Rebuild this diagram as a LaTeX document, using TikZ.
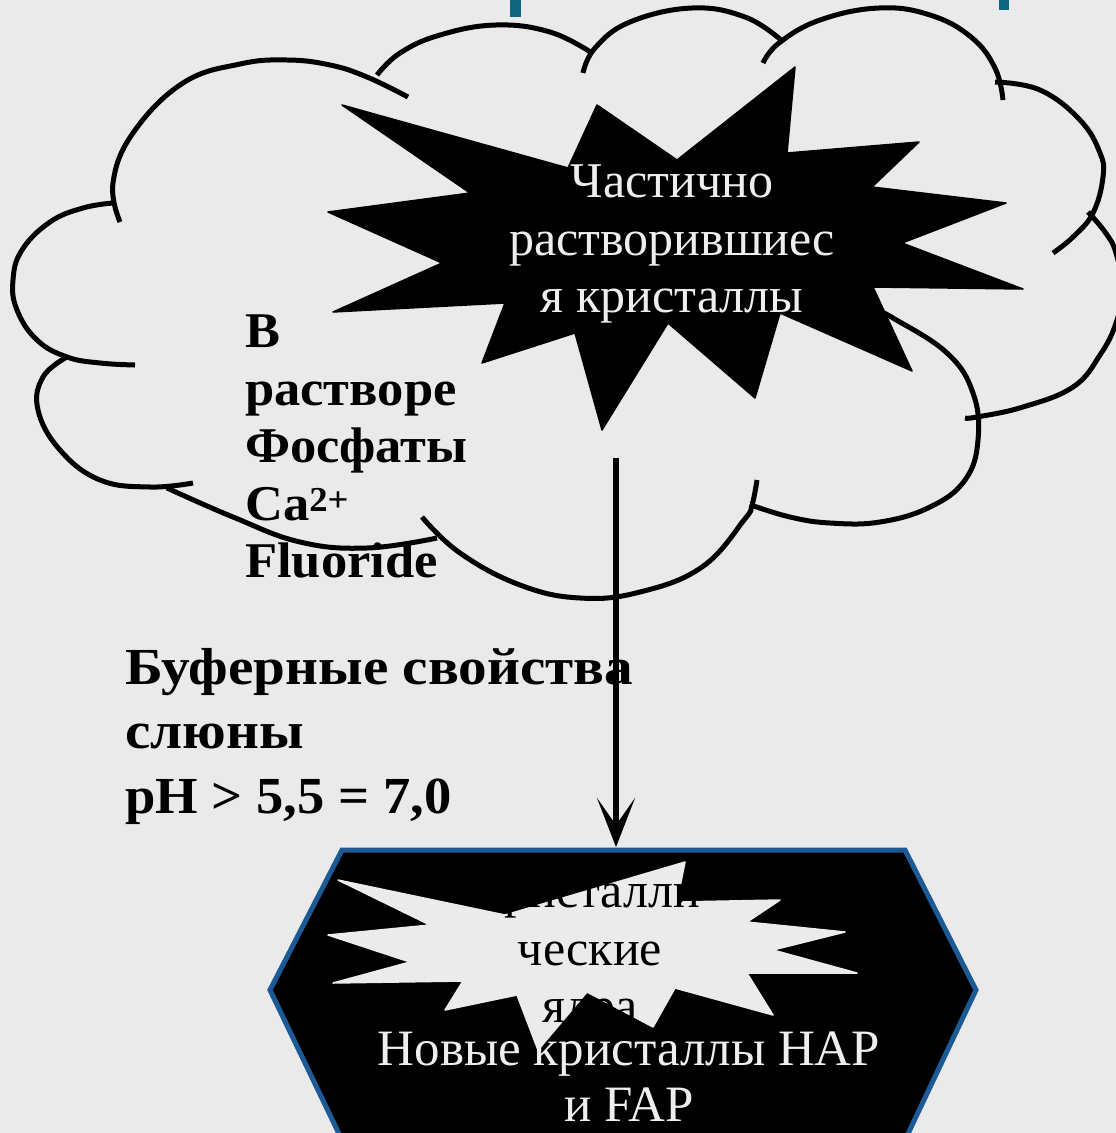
\documentclass[tikz,border=0pt]{standalone}
\usepackage{fontspec}
\setmainfont{Liberation Serif}
\newfontfamily\wideserif[FakeStretch=1.1]{Liberation Serif}
\newfontfamily\midserif[FakeStretch=1.05]{Liberation Serif}
\usetikzlibrary{arrows.meta}
\definecolor{bgcol}{RGB}{234,234,234}
\definecolor{hexblue}{RGB}{28,90,150}
\definecolor{tealcol}{RGB}{16,102,128}
\definecolor{lighttxt}{RGB}{238,238,238}
\definecolor{burstlight}{RGB}{235,235,235}
\begin{document}
\begin{tikzpicture}[x=1pt,y=-1pt,
  cloudarc/.style={line width=5pt, line cap=butt},
  darkburst/.style={fill=black, draw=black, line width=1.5pt, line join=round},
  lightburst/.style={fill=burstlight, draw=burstlight, line width=1.5pt, line join=round},
  hexbox/.style={fill=black, draw=hexblue, line width=5pt, line join=miter},
  plaintxt/.style={inner sep=0pt, font=\fontsize{50}{57.5}\selectfont},
  boldtxt/.style={inner sep=0pt, align=left, font=\midserif\bfseries\fontsize{50}{57.5}\selectfont},
  flowarrow/.style={line width=6.5pt, -{Stealth[length=49pt,width=38pt,inset=27pt]}}
]
\useasboundingbox (0,0) rectangle (1116,1133);
\clip (0,0) rectangle (1116,1133);
\fill[bgcol] (0,0) rectangle (1116,1133);

% remnants of title letters at the top
\fill[tealcol] (510,0) rectangle (521,17);
\fill[tealcol] (999,0) rectangle (1009,10);

% cloud outline (arcs)
\draw[cloudarc] plot[smooth, tension=0.7] coordinates {(120,222) (113,183) (133,133) (183,83) (240,64) (287,60) (330,65) (367,77) (408,97)};
\draw[cloudarc] plot[smooth, tension=0.7] coordinates {(377,75) (400,53) (440,35) (496,25) (550,32) (592,53)};
\draw[cloudarc] plot[smooth, tension=0.7] coordinates {(583,73) (595,48) (630,22) (692,8) (745,17) (781,40)};
\draw[cloudarc] plot[smooth, tension=0.7] coordinates {(763,63) (779,43) (820,20) (879,8) (930,15) (971,37) (995,68) (1003,100)};
\draw[cloudarc] plot[smooth, tension=0.7] coordinates {(995,82) (1040,90) (1080,120) (1100,153) (1103,177) (1093,213) (1073,237) (1053,253)};
\draw[cloudarc] plot[smooth, tension=0.7] coordinates {(1088,212) (1105,232) (1116,253) (1122,290) (1116,323) (1100,355) (1073,387) (1023,407) (977,417) (965,418)};
\draw[cloudarc] plot[smooth, tension=0.7] coordinates {(880,312) (893,318) (947,353) (973,393) (978,440) (965,480) (930,507) (880,522) (830,523) (790,517) (751,505)};
\draw[cloudarc] plot[smooth, tension=0.7] coordinates {(757,480) (752,505) (744,520) (702,567) (640,592) (580,598) (520,585) (460,553) (422,517)};
\draw[cloudarc] plot[smooth, tension=0.7] coordinates {(437,538) (367,548) (300,542) (233,517) (167,488)};
\draw[cloudarc] plot[smooth, tension=0.7] coordinates {(193,483) (150,487) (100,480) (60,450) (38,410) (43,377) (67,357)};
\draw[cloudarc] plot[smooth, tension=0.7] coordinates {(135,365) (100,363) (67,357) (37,340) (17,310) (13,280) (22,250) (50,222) (83,208) (113,203)};

% black explosion
\path[darkburst] (342,105) -- (568,168) -- (597,105) -- (677,160) -- (795,67) -- (787,153)
  -- (919,142) -- (872,187) -- (1006,203) -- (902,243) -- (1023,289) -- (873,287)
  -- (912,371) -- (780,313) -- (755,398) -- (668,323) -- (602,430) -- (575,333)
  -- (482,363) -- (505,303) -- (333,312) -- (442,263) -- (328,212) -- (470,193) -- cycle;
\node[plaintxt, align=center, text=lighttxt, anchor=north] (dissolved) at (672,165)
  {Частично\\растворившиес\\я кристаллы};

% solution contents
\node[boldtxt, anchor=north west] (solution) at (245,315)
  {В\\растворе\\Фосфаты\\Ca\textsuperscript{2+}\\Fluoride};

% buffer properties
\node[inner sep=0pt, align=left, font=\wideserif\bfseries\fontsize{52}{64.5}\selectfont, anchor=north west] (buffer) at (125,648)
  {Буферные свойства\\слюны\\{\midserif\bfseries pH > 5,5 = 7,0}};

% hexagon
\coordinate (h1) at (342,850);
\coordinate (h2) at (905,850);
\coordinate (h3) at (976,990);
\coordinate (h4) at (905,1140);
\coordinate (h5) at (342,1140);
\coordinate (h6) at (270,990);
\path[hexbox] (h1) -- (h2) -- (h3) -- (h4) -- (h5) -- (h6) -- cycle;

% light explosion inside hexagon
\path[lightburst] (338,880) -- (505,915) -- (685,862) -- (677,902) -- (780,900) -- (747,922)
  -- (845,932) -- (773,950) -- (857,973) -- (747,973) -- (773,1015) -- (675,988)
  -- (653,1027) -- (587,992) -- (538,1050) -- (517,995) -- (445,1010) -- (463,981)
  -- (333,983) -- (410,962) -- (328,935) -- (430,925) -- cycle;
\node[plaintxt, align=center, text=black, anchor=north] (nuclei) at (590,884)
  {кристалли\\ческие\\ядра};

\node[inner sep=0pt, align=center, text=lighttxt, font=\fontsize{51}{56}\selectfont, anchor=north] (newcryst) at (629,1032)
  {Новые кристаллы HAP\\и FAP};

% arrow
\coordinate (arrS) at (616,458);
\coordinate (arrE) at (616,847);
\draw[flowarrow] (arrS) -- (arrE);
\end{tikzpicture}
\end{document}
